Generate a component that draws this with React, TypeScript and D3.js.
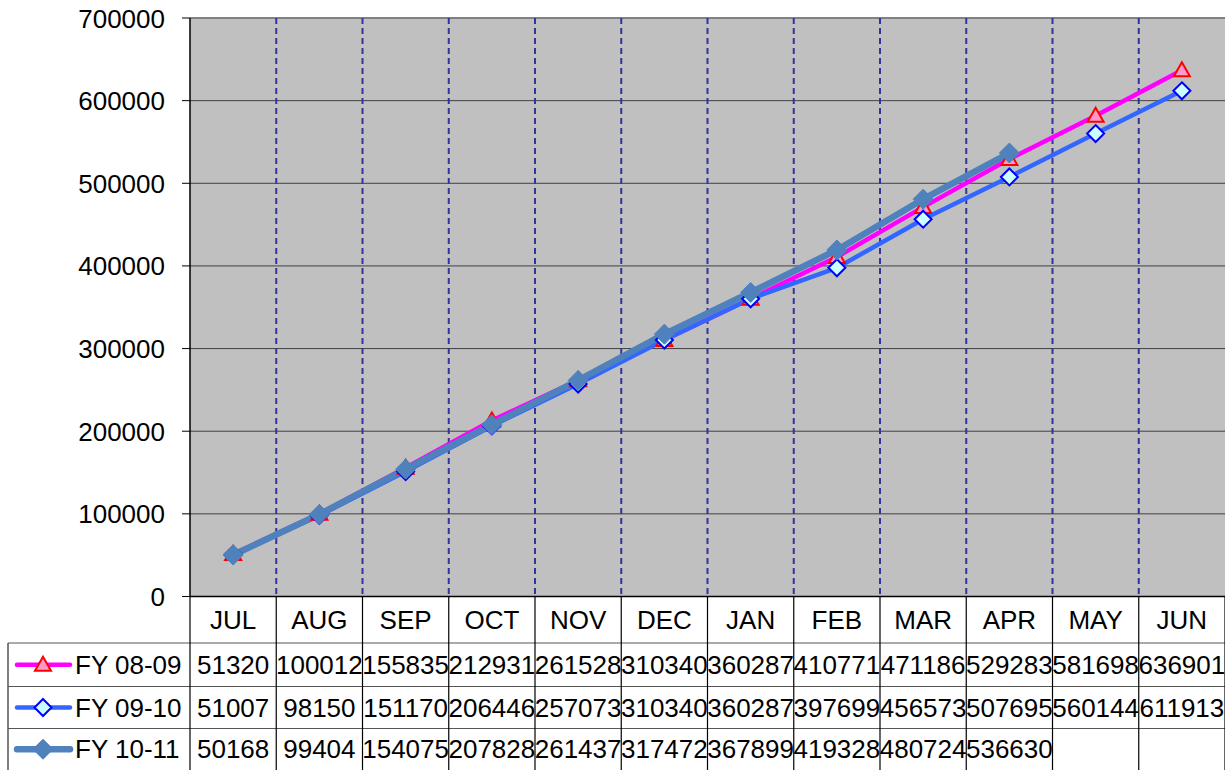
import React from "react";
import * as d3 from "d3";

const months = ["JUL", "AUG", "SEP", "OCT", "NOV", "DEC", "JAN", "FEB", "MAR", "APR", "MAY", "JUN"];
const fy0809 = [51320, 100012, 155835, 212931, 261528, 310340, 360287, 410771, 471186, 529283, 581698, 636901];
const fy0910 = [51007, 98150, 151170, 206446, 257073, 310340, 360287, 397699, 456573, 507695, 560144, 611913];
const fy1011 = [50168, 99404, 154075, 207828, 261437, 317472, 367899, 419328, 480724, 536630];
const yTicks = [0, 100000, 200000, 300000, 400000, 500000, 600000, 700000];
const seriesNames = ["FY 08-09", "FY 09-10", "FY 10-11"];

const W = 1225, H = 770;
const L = 190, R = 1225, T = 18, B = 596.5;
const FONT = "'Liberation Sans', Arial, sans-serif";
const FS = 26;

export default function App() {
  const x = d3.scaleBand<string>().domain(months).range([L, R]).padding(0);
  const y = d3.scaleLinear().domain([0, 700000]).range([B, T]);
  const cx = (i: number) => (x(months[i]) as number) + x.bandwidth() / 2;
  const line = d3.line<number>().x((_, i) => cx(i)).y((d) => y(d));

  const rowTops = [643, 686.5, 728.5, 770];
  const headerTop = B;

  const series = [
    { name: seriesNames[0], data: fy0809, color: "#ff00ff", width: 4.5, marker: "tri" },
    { name: seriesNames[1], data: fy0910, color: "#3366ff", width: 4.5, marker: "dia" },
    { name: seriesNames[2], data: fy1011, color: "#4f81bd", width: 6.5, marker: "fdia" },
  ];

  const marker = (m: string, px: number, py: number, key: any) => {
    if (m === "tri") {
      const s = 8;
      return (
        <path key={key} d={`M${px},${py - s}L${px + s},${py + s * 0.75}L${px - s},${py + s * 0.75}Z`} fill="#ff99cc" stroke="#ff0000" strokeWidth={2} />
      );
    }
    if (m === "dia") {
      const s = 8.5;
      return (
        <path key={key} d={`M${px},${py - s}L${px + s},${py}L${px},${py + s}L${px - s},${py}Z`} fill="#ccffff" stroke="#0000ff" strokeWidth={2} />
      );
    }
    const s = 10;
    return <path key={key} d={`M${px},${py - s}L${px + s},${py}L${px},${py + s}L${px - s},${py}Z`} fill="#4f81bd" stroke="#4f81bd" strokeWidth={1} />;
  };

  const bounds = months.map((_, i) => x(months[i]) as number).concat([R]);

  return (
    <svg width={W} height={H} style={{ position: "absolute", left: 0, top: 0 }} fontFamily={FONT}>
      <rect x={0} y={0} width={W} height={H} fill="#ffffff" />
      {/* plot area */}
      <rect x={L} y={T} width={R - L} height={B - T} fill="#c0c0c0" />
      {yTicks.map((t) => (
        <line key={"g" + t} x1={L} x2={R} y1={y(t)} y2={y(t)} stroke={t === 700000 ? "#808080" : "#404040"} strokeWidth={t === 700000 ? 2 : 1} />
      ))}
      {bounds.slice(1, 12).map((bx, i) => (
        <line key={"v" + i} x1={bx} x2={bx} y1={T} y2={B} stroke="#333399" strokeWidth={2} strokeDasharray="6,4" />
      ))}
      {/* y axis */}
      <line x1={L} x2={L} y1={T} y2={B} stroke="#000" strokeWidth={1.5} />
      {yTicks.map((t) => (
        <g key={"t" + t}>
          <line x1={182} x2={L} y1={y(t)} y2={y(t)} stroke="#000" strokeWidth={1} />
          <text x={165} y={y(t) + 9.5} textAnchor="end" fontSize={FS} fill="#000">{t}</text>
        </g>
      ))}
      <line x1={L} x2={R} y1={B} y2={B} stroke="#000" strokeWidth={1.5} />
      {/* series */}
      {series.map((s) => (
        <path key={"l" + s.name} d={line(s.data) as string} fill="none" stroke={s.color} strokeWidth={s.width} strokeLinejoin="round" />
      ))}
      {series.map((s) => (
        <g key={"m" + s.name}>{s.data.map((d, i) => marker(s.marker, cx(i), y(d), i))}</g>
      ))}
      {/* table */}
      {rowTops.slice(0, 3).map((ry, i) => (
        <line key={"h" + i} x1={8} x2={R} y1={ry} y2={ry} stroke="#555" strokeWidth={1} />
      ))}
      <line x1={8} x2={8} y1={rowTops[0]} y2={H} stroke="#555" strokeWidth={1.5} />
      {bounds.map((bx, i) => (
        <line key={"tv" + i} x1={bx} x2={bx} y1={headerTop} y2={H} stroke="#000" strokeWidth={1.2} />
      ))}
      {months.map((m, i) => (
        <text key={"mh" + m} x={cx(i)} y={628.5} textAnchor="middle" fontSize={FS} fill="#000">{m}</text>
      ))}
      {series.map((s, r) => {
        const top = rowTops[r];
        const mid = (top + rowTops[r + 1]) / 2;
        return (
          <g key={"row" + r}>
            <line x1={17} x2={70} y1={mid} y2={mid} stroke={s.color} strokeWidth={s.width} strokeLinecap="round" />
            {marker(s.marker, 43, mid, "lm")}
            <text x={75} y={mid + 9} fontSize={FS} fill="#000">{s.name}</text>
            {s.data.map((v, i) => (
              <text key={i} x={cx(i)} y={mid + 9} textAnchor="middle" fontSize={FS} fill="#000">{v}</text>
            ))}
          </g>
        );
      })}
    </svg>
  );
}
